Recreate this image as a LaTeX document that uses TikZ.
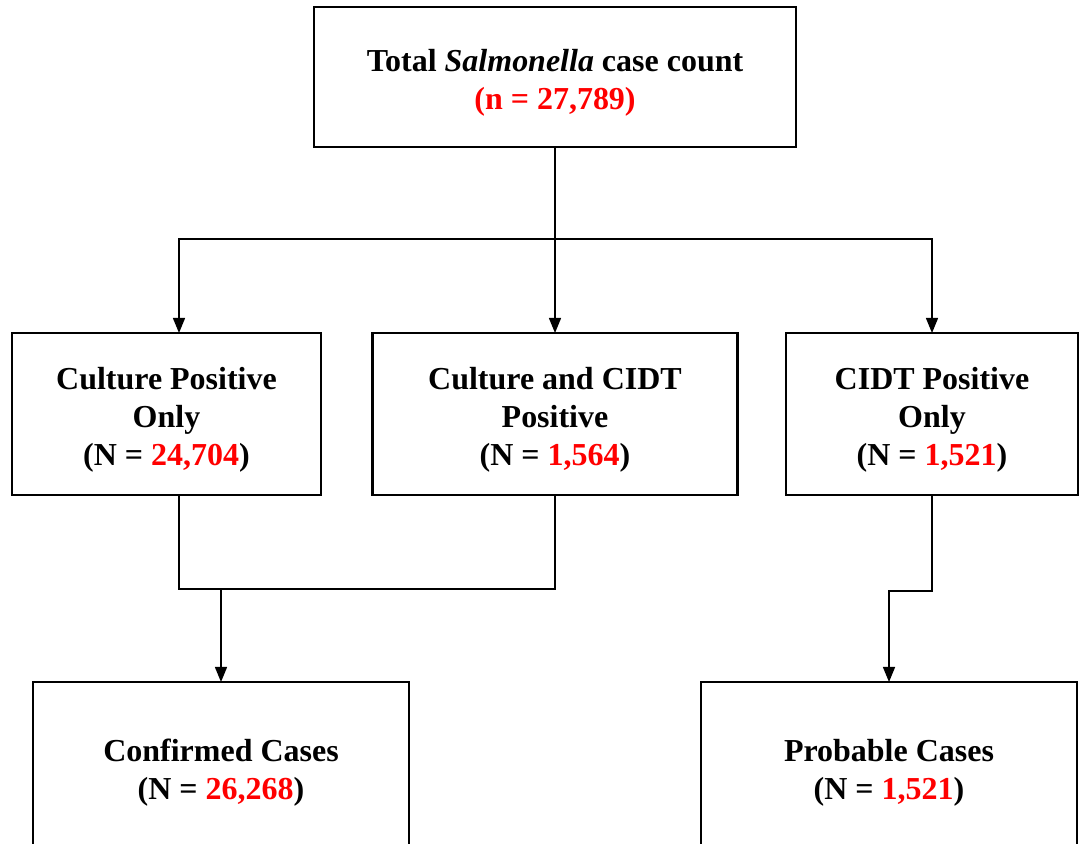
\documentclass[tikz,border=0pt]{standalone}
\usepackage{fontspec}
\setmainfont{Liberation Serif}
\usepackage{tikz}
\usetikzlibrary{arrows.meta, calc}
\usepackage{xcolor}

\begin{document}
\begin{tikzpicture}[
  >={Triangle[length=1.5mm, width=1.2mm]},
  font=\bfseries\fontsize{9.1}{10.8}\selectfont,
  casebox/.style={draw, line width=0.75pt, inner sep=0pt, outer sep=0pt},
  boxtext/.style={align=center, inner sep=0pt},
  link/.style={line width=0.4pt},
  ]

  % Parameters
  \def\Ymid{-4.14}
  \def\Ybot{-7.67}
  \def\Tdown{-0.6mm}

  \useasboundingbox (0, 0) rectangle (10.80, -8.44);

  % Top box
  \node[casebox, minimum width=4.82cm, minimum height=1.40cm] (total) at (5.55, -0.77) {};
  \node[boxtext] at ([yshift=\Tdown]total.center)
    {Total \textit{Salmonella} case count\\ \textcolor{red}{(n = 27,789)}};

  % Middle row
  \node[casebox, minimum width=3.09cm, minimum height=1.62cm] (cultonly) at (1.665, \Ymid) {};
  \node[boxtext] at ([yshift=\Tdown]cultonly.center)
    {Culture Positive\\ Only\\ (N = \textcolor{red}{24,704})};
  \node[casebox, minimum width=3.65cm, minimum height=1.62cm] (cultcidt) at (5.55, \Ymid) {};
  \node[boxtext] at ([yshift=\Tdown]cultcidt.center)
    {Culture and CIDT\\ Positive\\ (N = \textcolor{red}{1,564})};
  \node[casebox, minimum width=2.92cm, minimum height=1.62cm] (cidtonly) at (9.32, \Ymid) {};
  \node[boxtext] at ([yshift=\Tdown]cidtonly.center)
    {CIDT Positive\\ Only\\ (N = \textcolor{red}{1,521})};

  % Bottom row
  \node[casebox, minimum width=3.76cm, minimum height=1.70cm] (confirmed) at (2.21, \Ybot) {};
  \node[boxtext] at ([yshift=\Tdown]confirmed.center)
    {Confirmed Cases\\ (N = \textcolor{red}{26,268})};
  \node[casebox, minimum width=3.76cm, minimum height=1.70cm] (probable) at (8.89, \Ybot) {};
  \node[boxtext] at ([yshift=\Tdown]probable.center)
    {Probable Cases\\ (N = \textcolor{red}{1,521})};

  % Split from the total
  \draw[link] (total.south) -- ++(0, -0.92) coordinate (split);
  \draw[link, ->] (split) -| ([xshift=1.25mm]cultonly.north);
  \draw[link, ->] (split) -- (cultcidt.north);
  \draw[link, ->] (split) -| (cidtonly.north);

  % Join into confirmed
  \draw[link] ([xshift=1.25mm]cultonly.south) -- ++(0, -0.94) coordinate (joinL) -| (cultcidt.south);
  \draw[link, ->] (joinL -| confirmed.north) -- (confirmed.north);

  % CIDT only into probable
  \draw[link, ->] (cidtonly.south) -- ++(0, -0.96) -| (probable.north);

\end{tikzpicture}
\end{document}
